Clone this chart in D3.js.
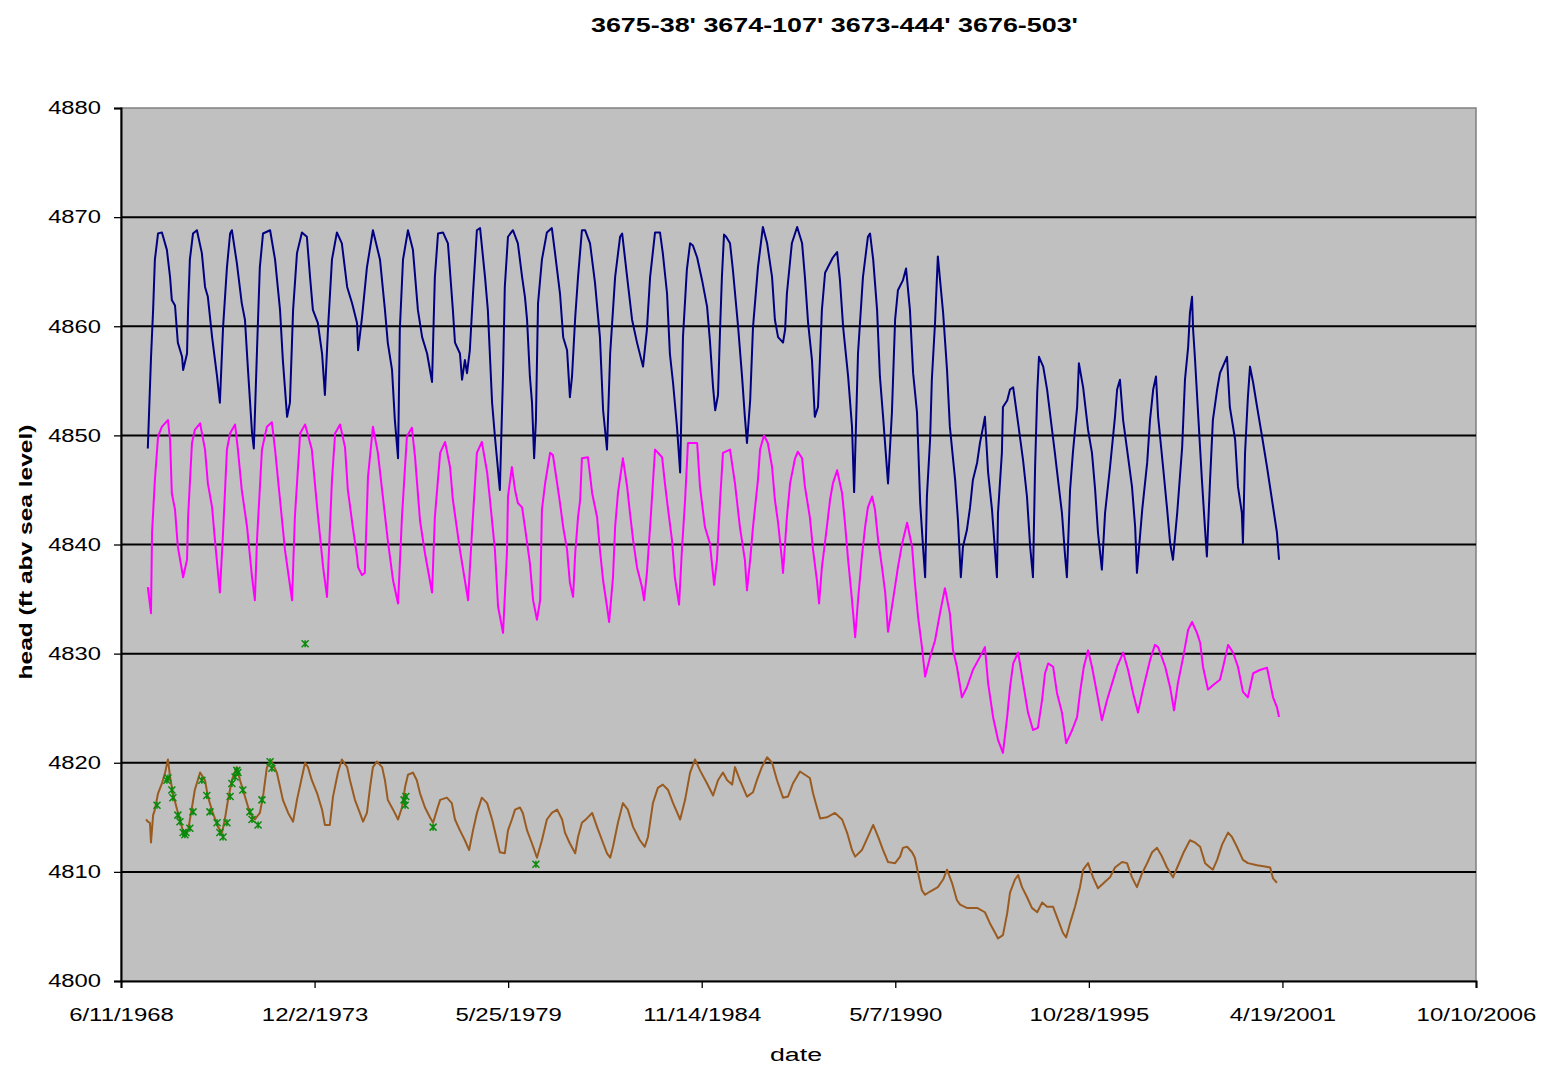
<!DOCTYPE html>
<html><head><meta charset="utf-8">
<script src="https://cdn.jsdelivr.net/npm/d3@7"></script>
<style>body{margin:0;background:#fff}svg{display:block}</style>
</head><body><svg id="c" width="1541" height="1067"></svg>
<script>
const chartTitle = "3675-38' 3674-107' 3673-444' 3676-503'";
const xAxisTitle = "date";
const yAxisTitle = "head (ft abv sea level)";
const yTickValues = [4800,4810,4820,4830,4840,4850,4860,4870,4880];
const xTickLabels = ["6/11/1968","12/2/1973","5/25/1979","11/14/1984","5/7/1990","10/28/1995","4/19/2001","10/10/2006"];

// 3675-38' (navy)
const navyYears = [
1969.20,1969.29,1969.35,1969.40,1969.49,1969.60,1969.74,1969.83,1969.88,1969.97,
1970.05,1970.17,1970.20,1970.31,1970.34,1970.39,1970.48,1970.59,1970.73,1970.82,
1970.90,1971.02,1971.16,1971.24,1971.33,1971.44,1971.53,1971.58,1971.72,1971.86,
1971.95,1972.03,1972.15,1972.20,1972.29,1972.37,1972.46,1972.66,1972.80,1972.94,
1973.02,1973.14,1973.22,1973.31,1973.42,1973.56,1973.70,1973.79,1973.87,1974.01,
1974.13,1974.21,1974.30,1974.41,1974.55,1974.69,1974.84,1974.98,1975.12,1975.15,
1975.26,1975.40,1975.57,1975.77,1975.91,1975.99,1976.11,1976.19,1976.28,1976.33,
1976.42,1976.56,1976.70,1976.84,1976.96,1977.10,1977.24,1977.32,1977.41,1977.55,
1977.69,1977.83,1977.89,1978.03,1978.09,1978.17,1978.23,1978.31,1978.40,1978.51,
1978.60,1978.74,1978.82,1978.94,1979.02,1979.16,1979.25,1979.30,1979.39,1979.53,
1979.67,1979.79,1979.87,1979.93,1980.01,1980.07,1980.13,1980.18,1980.24,1980.35,
1980.49,1980.63,1980.72,1980.86,1980.95,1981.06,1981.14,1981.20,1981.29,1981.37,
1981.48,1981.57,1981.71,1981.85,1981.99,1982.08,1982.19,1982.28,1982.42,1982.56,
1982.62,1982.76,1982.90,1983.04,1983.21,1983.32,1983.41,1983.55,1983.69,1983.77,
1983.89,1983.97,1984.06,1984.17,1984.26,1984.34,1984.45,1984.54,1984.62,1984.74,
1984.88,1985.02,1985.10,1985.19,1985.25,1985.33,1985.39,1985.44,1985.50,1985.56,
1985.67,1985.75,1985.90,1986.01,1986.09,1986.15,1986.24,1986.32,1986.46,1986.60,
1986.72,1986.86,1986.94,1987.03,1987.17,1987.23,1987.28,1987.42,1987.57,1987.71,
1987.79,1987.88,1987.99,1988.07,1988.16,1988.27,1988.36,1988.58,1988.70,1988.78,
1988.87,1989.01,1989.12,1989.18,1989.29,1989.43,1989.57,1989.63,1989.72,1989.83,
1989.91,1990.00,1990.14,1990.25,1990.34,1990.42,1990.56,1990.65,1990.76,1990.85,
1990.96,1991.05,1991.13,1991.19,1991.24,1991.33,1991.38,1991.47,1991.55,1991.70,
1991.81,1991.89,1992.04,1992.12,1992.20,1992.26,1992.37,1992.46,1992.54,1992.66,
1992.74,1992.83,1992.88,1992.97,1993.08,1993.17,1993.22,1993.25,1993.36,1993.39,
1993.51,1993.59,1993.68,1993.82,1993.96,1994.07,1994.16,1994.24,1994.30,1994.36,
1994.41,1994.53,1994.64,1994.78,1994.86,1994.95,1995.06,1995.15,1995.20,1995.29,
1995.37,1995.49,1995.54,1995.66,1995.80,1995.91,1996.00,1996.08,1996.19,1996.28,
1996.42,1996.56,1996.62,1996.70,1996.79,1996.93,1997.04,1997.13,1997.18,1997.33,
1997.47,1997.55,1997.64,1997.72,1997.78,1997.92,1998.03,1998.12,1998.20,1998.32,
1998.46,1998.54,1998.63,1998.68,1998.74,1998.77,1998.82,1998.91,1999.02,1999.11,
1999.16,1999.25,1999.33,1999.45,1999.53,1999.73,1999.81,1999.96,2000.04,2000.15,
2000.18,2000.24,2000.32,2000.38,2000.47,2000.58,2000.72,2000.86,2001.00,2001.14,
2001.20];
const navyHead = [
4848.8,4857.1,4861.5,4866.1,4868.5,4868.6,4867.0,4864.5,4862.4,4861.9,
4858.5,4857.2,4856.0,4857.5,4861.5,4866.1,4868.5,4868.8,4866.7,4863.6,
4862.7,4859.0,4855.4,4853.0,4859.9,4865.4,4868.5,4868.8,4865.8,4862.1,
4860.6,4856.3,4850.2,4848.8,4857.8,4865.4,4868.5,4868.8,4866.1,4861.5,
4856.9,4851.7,4853.0,4861.5,4866.7,4868.6,4868.2,4864.5,4861.5,4860.3,
4857.5,4853.7,4859.9,4866.1,4868.6,4867.6,4863.6,4862.1,4860.3,4857.8,
4860.8,4865.4,4868.8,4866.1,4861.5,4858.5,4856.0,4851.4,4847.9,4859.7,
4866.1,4868.8,4867.0,4861.5,4859.0,4857.5,4854.9,4864.5,4868.5,4868.6,
4867.6,4861.5,4858.5,4857.5,4855.1,4856.9,4855.7,4857.8,4863.0,4868.8,
4869.0,4864.5,4861.5,4853.0,4849.9,4845.0,4855.7,4863.6,4868.2,4868.8,
4867.6,4864.5,4862.7,4860.6,4855.4,4853.0,4847.9,4851.4,4862.1,4866.1,
4868.6,4869.0,4866.7,4863.0,4859.0,4857.8,4853.5,4855.4,4860.8,4864.5,
4868.8,4868.8,4867.6,4864.0,4859.0,4852.3,4848.7,4857.5,4864.5,4868.2,
4868.5,4864.5,4860.6,4858.5,4856.3,4859.7,4864.5,4868.6,4868.6,4866.7,
4863.0,4857.5,4854.8,4850.8,4846.6,4859.0,4865.2,4867.6,4867.4,4866.3,
4864.2,4861.8,4858.7,4854.4,4852.3,4853.7,4859.9,4864.5,4868.4,4868.2,
4867.6,4865.2,4859.9,4855.4,4851.7,4849.3,4853.2,4859.9,4865.4,4869.1,
4867.6,4864.5,4860.6,4859.0,4858.5,4859.7,4863.0,4867.6,4869.1,4867.6,
4864.5,4860.3,4856.9,4851.7,4852.6,4861.5,4864.9,4866.3,4866.8,4864.2,
4859.9,4855.4,4850.8,4844.8,4857.5,4864.5,4868.2,4868.5,4866.1,4861.5,
4855.4,4851.7,4845.6,4852.1,4860.6,4863.3,4864.2,4865.3,4861.5,4855.7,
4852.1,4843.8,4839.8,4837.0,4844.4,4849.6,4855.1,4860.3,4866.4,4861.2,
4856.0,4850.8,4845.9,4842.2,4837.0,4839.8,4841.3,4843.4,4845.9,4847.5,
4849.3,4850.8,4851.7,4846.6,4843.2,4839.2,4837.0,4842.9,4848.4,4852.6,
4853.2,4854.2,4854.4,4851.1,4847.7,4844.4,4839.8,4837.0,4847.1,4853.9,
4857.2,4856.3,4854.2,4850.5,4848.4,4845.9,4842.9,4838.9,4837.0,4845.0,
4848.4,4852.6,4856.6,4854.4,4850.5,4848.4,4845.0,4841.1,4837.7,4842.9,
4847.1,4851.7,4854.2,4855.1,4851.4,4848.0,4845.3,4841.6,4837.4,4843.2,
4847.5,4851.4,4854.2,4855.4,4851.7,4847.1,4843.4,4840.1,4838.6,4842.9,
4848.9,4855.1,4858.1,4861.2,4862.7,4859.7,4857.2,4852.1,4845.9,4841.3,
4838.9,4845.9,4851.4,4854.2,4855.7,4857.2,4852.6,4849.6,4845.3,4842.9,
4840.1,4848.4,4853.5,4856.3,4854.8,4852.6,4849.9,4847.1,4844.1,4841.1,
4838.6];

// 3674-107' (magenta)
const magentaYears = [
1969.20,1969.29,1969.32,1969.40,1969.49,1969.60,1969.77,1969.83,1969.88,1969.97,
1970.05,1970.20,1970.31,1970.34,1970.45,1970.53,1970.68,1970.82,1970.90,1971.02,
1971.10,1971.24,1971.33,1971.44,1971.53,1971.67,1971.75,1971.86,1972.01,1972.15,
1972.23,1972.29,1972.43,1972.57,1972.71,1972.80,1972.94,1973.08,1973.28,1973.36,
1973.51,1973.65,1973.84,1973.99,1974.16,1974.27,1974.41,1974.50,1974.64,1974.78,
1974.86,1975.00,1975.12,1975.15,1975.26,1975.34,1975.43,1975.57,1975.71,1975.85,
1975.99,1976.14,1976.28,1976.39,1976.53,1976.67,1976.76,1976.90,1977.04,1977.24,
1977.32,1977.47,1977.61,1977.75,1977.83,1978.03,1978.26,1978.37,1978.51,1978.65,
1978.80,1978.88,1979.02,1979.11,1979.25,1979.36,1979.39,1979.50,1979.59,1979.67,
1979.79,1979.87,1980.01,1980.10,1980.21,1980.30,1980.35,1980.44,1980.58,1980.66,
1980.78,1980.86,1980.95,1981.06,1981.14,1981.23,1981.29,1981.37,1981.43,1981.48,
1981.65,1981.77,1981.91,1981.99,1982.08,1982.19,1982.25,1982.36,1982.42,1982.50,
1982.64,1982.76,1982.84,1982.93,1983.04,1983.18,1983.24,1983.32,1983.41,1983.46,
1983.55,1983.75,1983.83,1983.92,1984.03,1984.11,1984.23,1984.31,1984.40,1984.48,
1984.74,1984.82,1984.96,1985.10,1985.22,1985.30,1985.39,1985.47,1985.67,1985.81,
1985.95,1986.09,1986.15,1986.24,1986.32,1986.46,1986.52,1986.63,1986.74,1986.86,
1986.94,1987.03,1987.14,1987.17,1987.28,1987.37,1987.51,1987.59,1987.71,1987.79,
1987.93,1988.02,1988.13,1988.19,1988.27,1988.41,1988.50,1988.58,1988.70,1988.84,
1988.92,1989.01,1989.12,1989.21,1989.29,1989.40,1989.49,1989.57,1989.69,1989.77,
1989.86,1989.97,1990.06,1990.14,1990.28,1990.42,1990.54,1990.68,1990.82,1990.90,
1990.99,1991.10,1991.19,1991.33,1991.47,1991.61,1991.75,1991.89,1991.98,1992.09,
1992.23,1992.37,1992.54,1992.74,1992.88,1992.97,1993.11,1993.25,1993.39,1993.51,
1993.59,1993.68,1993.82,1993.96,1994.10,1994.24,1994.38,1994.50,1994.58,1994.67,
1994.81,1994.92,1995.06,1995.18,1995.35,1995.49,1995.57,1995.68,1995.80,1995.91,
1996.05,1996.19,1996.34,1996.48,1996.62,1996.79,1996.93,1997.07,1997.21,1997.35,
1997.55,1997.69,1997.78,1997.98,1998.12,1998.23,1998.34,1998.49,1998.63,1998.74,
1998.88,1998.97,1999.05,1999.19,1999.33,1999.53,1999.62,1999.76,1999.90,2000.04,
2000.18,2000.32,2000.47,2000.66,2000.86,2000.95,2001.03,2001.14,2001.20];
const magentaHead = [
4836.1,4833.7,4841.1,4845.9,4849.9,4850.8,4851.4,4849.6,4844.7,4843.2,
4839.8,4837.0,4838.6,4842.5,4849.3,4850.5,4851.1,4848.7,4845.6,4843.4,
4840.4,4835.6,4841.1,4848.7,4850.2,4851.0,4848.7,4845.0,4841.6,4837.0,
4834.9,4840.4,4848.7,4850.8,4851.2,4848.7,4844.1,4839.5,4834.9,4842.5,
4850.2,4851.0,4848.7,4843.4,4837.9,4835.2,4845.9,4850.2,4851.0,4848.9,
4845.0,4841.6,4838.9,4837.9,4837.2,4837.4,4846.2,4850.8,4848.4,4844.4,
4840.4,4836.7,4834.6,4842.5,4849.9,4850.7,4848.0,4842.2,4839.2,4835.6,
4842.5,4848.4,4849.4,4847.1,4844.1,4839.5,4834.9,4841.1,4848.4,4849.4,
4846.6,4844.1,4839.5,4834.3,4831.9,4839.2,4844.4,4847.1,4845.0,4843.8,
4843.4,4841.6,4838.3,4834.9,4833.1,4834.9,4843.2,4845.6,4848.4,4848.2,
4845.6,4843.8,4841.6,4839.5,4836.5,4835.2,4839.2,4842.5,4844.1,4847.9,
4848.0,4844.7,4842.5,4839.5,4836.7,4834.3,4832.9,4837.0,4841.6,4844.7,
4847.9,4845.3,4842.9,4840.4,4837.9,4836.1,4834.9,4837.4,4841.6,4844.1,
4848.7,4848.0,4845.6,4843.2,4840.4,4837.0,4834.5,4839.5,4844.1,4849.3,
4849.3,4845.3,4841.6,4840.1,4836.3,4838.6,4844.1,4848.4,4848.7,4845.6,
4841.6,4838.6,4835.8,4838.6,4841.6,4845.9,4848.7,4850.0,4849.3,4847.1,
4844.1,4842.0,4838.6,4837.4,4842.5,4845.6,4847.9,4848.5,4847.9,4845.3,
4842.5,4839.5,4836.7,4834.6,4837.9,4841.6,4844.1,4845.6,4846.8,4844.7,
4842.0,4838.6,4834.9,4831.5,4834.9,4838.9,4841.6,4843.4,4844.4,4843.2,
4840.4,4837.9,4835.6,4832.0,4834.9,4837.9,4840.1,4842.0,4839.8,4836.5,
4833.4,4830.6,4827.9,4829.7,4831.2,4833.7,4836.0,4833.7,4830.3,4828.8,
4826.0,4826.9,4828.5,4829.7,4830.6,4827.3,4824.2,4822.1,4820.9,4824.2,
4826.9,4829.1,4830.1,4827.3,4824.6,4823.0,4823.2,4825.8,4828.2,4829.1,
4828.8,4826.4,4824.6,4821.8,4823.0,4824.2,4826.4,4828.8,4830.3,4828.8,
4826.4,4823.9,4825.8,4827.3,4828.8,4830.1,4828.5,4826.4,4824.6,4826.7,
4829.4,4830.8,4830.6,4828.8,4826.9,4824.8,4827.3,4829.7,4832.2,4832.9,
4831.9,4831.0,4828.8,4826.7,4827.1,4827.6,4828.8,4830.8,4830.1,4828.8,
4826.5,4826.0,4828.2,4828.5,4828.7,4827.3,4826.0,4825.1,4824.2];

// 3676-503' (brown)
const brownYears = [
1969.15,1969.20,1969.26,1969.29,1969.35,1969.40,1969.49,1969.60,1969.69,1969.77,
1969.83,1969.91,1970.03,1970.11,1970.22,1970.34,1970.45,1970.53,1970.68,1970.82,
1970.90,1971.04,1971.19,1971.30,1971.38,1971.47,1971.58,1971.72,1971.81,1971.95,
1972.09,1972.23,1972.37,1972.46,1972.57,1972.71,1972.85,1972.94,1973.02,1973.17,
1973.31,1973.42,1973.56,1973.65,1973.73,1973.84,1973.99,1974.13,1974.21,1974.35,
1974.44,1974.58,1974.69,1974.84,1974.92,1975.06,1975.20,1975.29,1975.40,1975.49,
1975.57,1975.68,1975.83,1975.91,1975.99,1976.14,1976.28,1976.39,1976.48,1976.56,
1976.70,1976.81,1976.90,1977.04,1977.18,1977.27,1977.38,1977.47,1977.66,1977.80,
1977.89,1978.03,1978.17,1978.29,1978.40,1978.51,1978.65,1978.80,1978.94,1979.08,
1979.16,1979.30,1979.39,1979.50,1979.59,1979.73,1979.81,1979.93,1980.07,1980.21,
1980.35,1980.49,1980.63,1980.78,1980.92,1981.00,1981.14,1981.29,1981.37,1981.48,
1981.62,1981.77,1981.91,1982.05,1982.19,1982.28,1982.36,1982.50,1982.64,1982.78,
1982.93,1983.12,1983.26,1983.35,1983.49,1983.63,1983.77,1983.92,1984.06,1984.26,
1984.40,1984.54,1984.68,1984.82,1985.02,1985.19,1985.33,1985.47,1985.59,1985.73,
1985.81,1985.95,1986.15,1986.32,1986.43,1986.57,1986.72,1986.86,1987.00,1987.17,
1987.31,1987.45,1987.65,1987.79,1987.93,1988.02,1988.13,1988.22,1988.41,1988.64,
1988.84,1988.98,1989.12,1989.21,1989.40,1989.57,1989.72,1989.86,1990.00,1990.14,
1990.34,1990.48,1990.56,1990.68,1990.82,1990.90,1990.99,1991.10,1991.19,1991.33,
1991.55,1991.70,1991.81,1991.95,1992.09,1992.18,1992.37,1992.66,1992.88,1993.02,
1993.17,1993.25,1993.39,1993.51,1993.59,1993.73,1993.82,1993.93,1994.07,1994.21,
1994.36,1994.50,1994.64,1994.81,1994.95,1995.09,1995.18,1995.29,1995.43,1995.57,
1995.66,1995.80,1995.94,1996.08,1996.28,1996.42,1996.56,1996.76,1996.90,1997.04,
1997.18,1997.33,1997.47,1997.61,1997.75,1997.89,1998.03,1998.20,1998.32,1998.49,
1998.68,1998.82,1998.97,1999.11,1999.25,1999.33,1999.45,1999.59,1999.76,1999.87,
2000.01,2000.18,2000.32,2000.58,2000.80,2000.95,2001.03,2001.14];
const brownHead = [
4814.8,4814.6,4814.5,4812.7,4815.2,4815.7,4817.2,4818.1,4819.1,4820.3,
4818.7,4817.2,4815.7,4814.8,4813.4,4813.8,4815.9,4817.5,4819.1,4818.4,
4816.9,4815.4,4814.1,4813.6,4814.8,4816.6,4818.4,4819.6,4818.4,4816.9,
4815.4,4814.8,4815.4,4816.9,4819.6,4820.1,4819.1,4817.8,4816.6,4815.4,
4814.6,4816.6,4818.7,4820.0,4819.6,4818.4,4817.2,4815.7,4814.3,4814.3,
4816.9,4819.1,4820.3,4819.6,4818.4,4816.6,4815.4,4814.6,4815.4,4817.8,
4819.6,4820.1,4819.6,4818.4,4816.6,4815.7,4814.8,4815.9,4817.8,4818.9,
4819.1,4818.4,4817.2,4815.9,4815.0,4814.5,4815.7,4816.6,4816.8,4816.3,
4814.8,4813.8,4812.9,4812.0,4813.8,4815.4,4816.8,4816.3,4814.8,4812.9,
4811.8,4811.7,4813.8,4814.8,4815.7,4815.9,4815.4,4813.8,4812.6,4811.3,
4812.9,4814.8,4815.4,4815.7,4814.8,4813.6,4812.6,4811.7,4813.2,4814.5,
4814.9,4815.4,4814.1,4812.9,4811.7,4811.3,4812.3,4814.5,4816.3,4815.7,
4814.1,4812.9,4812.3,4813.2,4816.3,4817.7,4818.0,4817.5,4816.3,4814.8,
4816.6,4819.1,4820.3,4819.3,4818.1,4817.0,4818.4,4819.1,4818.4,4818.0,
4819.6,4818.4,4816.9,4817.3,4818.4,4819.6,4820.5,4820.0,4818.4,4816.8,
4816.9,4818.1,4819.2,4818.9,4818.6,4817.2,4815.9,4814.9,4815.0,4815.4,
4814.8,4813.6,4812.0,4811.4,4812.0,4813.2,4814.3,4813.2,4812.0,4810.9,
4810.8,4811.4,4812.2,4812.3,4811.8,4811.3,4809.9,4808.3,4807.9,4808.2,
4808.6,4809.3,4810.2,4809.0,4807.4,4807.0,4806.7,4806.7,4806.3,4805.3,
4804.4,4803.9,4804.2,4806.2,4808.1,4809.3,4809.7,4808.6,4807.7,4806.7,
4806.3,4807.2,4806.8,4806.8,4805.6,4804.4,4804.0,4805.3,4806.8,4808.6,
4810.2,4810.8,4809.5,4808.5,4809.1,4809.5,4810.4,4810.9,4810.8,4809.5,
4808.6,4809.9,4810.8,4811.8,4812.2,4811.4,4810.4,4809.5,4810.4,4811.7,
4812.9,4812.7,4812.3,4810.8,4810.4,4810.2,4811.1,4812.5,4813.6,4813.2,
4812.3,4811.1,4810.8,4810.6,4810.5,4810.4,4809.4,4809.0];

// 3673-444' (green markers only)
const greenYears = [
1969.46,1969.74,1969.77,1969.88,1969.91,1970.05,1970.11,1970.20,1970.25,1970.28,
1970.39,1970.48,1970.73,1970.87,1970.96,1971.16,1971.24,1971.33,1971.44,1971.53,
1971.58,1971.67,1971.72,1971.75,1971.89,1972.09,1972.15,1972.32,1972.43,1972.66,
1972.71,1973.65,1976.45,1976.48,1976.50,1977.27,1980.18];
const greenHead = [
4816.1,4818.4,4818.6,4817.5,4816.8,4815.2,4814.6,4813.6,4813.4,4813.6,
4814.0,4815.5,4818.4,4817.0,4815.5,4814.5,4813.6,4813.2,4814.5,4816.9,
4818.1,4818.7,4819.3,4819.1,4817.5,4815.5,4814.8,4814.3,4816.6,4820.1,
4819.5,4830.9,4816.6,4816.1,4816.9,4814.1,4810.7];

const seriesColors = {navy:"#000080", magenta:"#ff00ff", brown:"#9a5b20", green:"#0a8a0a"};

function yearToDate(y){
  const yr = Math.floor(y);
  const s = Date.UTC(yr,0,1), e = Date.UTC(yr+1,0,1);
  return new Date(s + (y-yr)*(e-s));
}
function parseMDY(s){ const [m,d,y]=s.split("/").map(Number); return new Date(Date.UTC(y,m-1,d)); }
function zipSeries(name, ys, vs){
  if (ys.length !== vs.length) throw new Error(name+" length mismatch "+ys.length+" vs "+vs.length);
  return ys.map((y,i)=>({date:yearToDate(y), v:vs[i]}));
}

const W=1541, H=1067;
const L=121, R=1476, T=108, B=981;
const svg = d3.select("#c");
svg.append("rect").attr("width",W).attr("height",H).attr("fill","#fff");

const xTicks = xTickLabels.map(parseMDY);
const x = d3.scaleUtc().domain([xTicks[0], xTicks[xTicks.length-1]]).range([L,R]);
const y = d3.scaleLinear().domain([4800,4880]).range([B,T]);

const FONT = "'Liberation Sans', Arial, sans-serif";
function stretch(sel, factor){
  sel.each(function(){ const w=this.getComputedTextLength(); d3.select(this).attr("textLength", w*factor).attr("lengthAdjust","spacingAndGlyphs"); });
}

// plot area
svg.append("rect").attr("x",L).attr("y",T).attr("width",R-L).attr("height",B-T)
  .attr("fill","#c0c0c0").attr("stroke","#808080").attr("stroke-width",1.5);

// gridlines
svg.append("g").selectAll("line").data(yTickValues.filter(v=>v>4800 && v<4880)).join("line")
  .attr("x1",L).attr("x2",R).attr("y1",d=>y(d)).attr("y2",d=>y(d))
  .attr("stroke","#000").attr("stroke-width",2);

// axes
const yAxis = svg.append("g").attr("transform",`translate(${L},0)`)
  .call(d3.axisLeft(y).tickValues(yTickValues).tickSize(7).tickPadding(13).tickFormat(d3.format("d")));
const xAxis = svg.append("g").attr("transform",`translate(0,${B})`)
  .call(d3.axisBottom(x).tickValues(xTicks).tickSize(7).tickPadding(20).tickFormat((d,i)=>xTickLabels[i]));
[yAxis,xAxis].forEach(g=>{
  g.select(".domain").attr("stroke","#000").attr("stroke-width",2);
  g.selectAll(".tick line").attr("stroke","#000").attr("stroke-width",1.3);
  g.selectAll("text").attr("font-family",FONT).attr("font-size",18).attr("fill","#000");
});
yAxis.selectAll("text").call(stretch,1.32);
xAxis.selectAll("text").call(stretch,1.33);

// series
const line = d3.line().x(d=>x(d.date)).y(d=>y(d.v));
const plot = svg.append("g");
[["navy",navyYears,navyHead],["magenta",magentaYears,magentaHead],["brown",brownYears,brownHead]].forEach(([n,ys,vs])=>{
  plot.append("path").datum(zipSeries(n,ys,vs)).attr("d",line)
    .attr("fill","none").attr("stroke",seriesColors[n]).attr("stroke-width",2).attr("stroke-linejoin","round");
});
const s=3.5;
plot.append("g").selectAll("path").data(zipSeries("green",greenYears,greenHead)).join("path")
  .attr("transform",d=>`translate(${x(d.date)},${y(d.v)})`)
  .attr("d",`M${-s},${-s}L${s},${s}M${-s},${s}L${s},${-s}M0,${-s}L0,${s}`)
  .attr("stroke",seriesColors.green).attr("stroke-width",1.5).attr("fill","none");

// titles
svg.append("text").attr("x",834.5).attr("y",32).attr("text-anchor","middle")
  .attr("font-family",FONT).attr("font-weight","bold").attr("font-size",20)
  .attr("textLength",487).attr("lengthAdjust","spacingAndGlyphs").text(chartTitle);
svg.append("text").attr("x",796).attr("y",1061).attr("text-anchor","middle")
  .attr("font-family",FONT).attr("font-size",18)
  .attr("textLength",52).attr("lengthAdjust","spacingAndGlyphs").text(xAxisTitle);
svg.append("text").attr("transform","translate(32,552) rotate(-90)").attr("text-anchor","middle")
  .attr("font-family",FONT).attr("font-weight","bold").attr("font-size",19)
  .attr("textLength",255).attr("lengthAdjust","spacingAndGlyphs").text(yAxisTitle);
</script>
</body></html>
